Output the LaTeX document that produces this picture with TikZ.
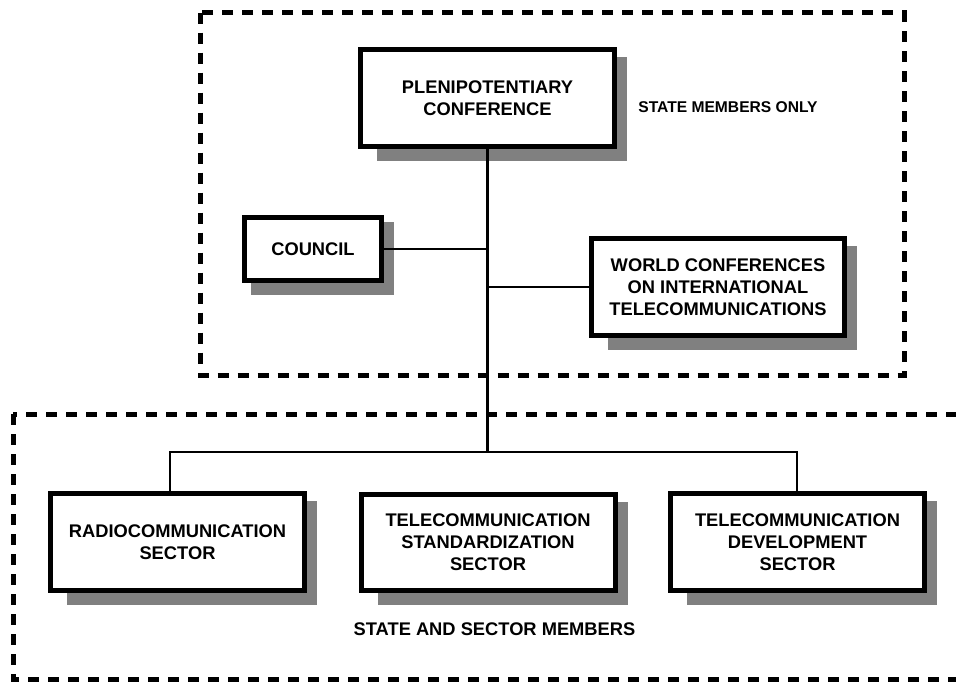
\documentclass[tikz,border=0pt]{standalone}
\usepackage{fontspec}
\setmainfont{Liberation Sans}
\usetikzlibrary{calc,backgrounds}
\definecolor{shadowgray}{HTML}{808080}
\tikzset{
  orgbox/.style={draw=black, line width=5pt, fill=white, rectangle, align=center,
    font=\bfseries\fontsize{18.3}{22}\selectfont, minimum width=254pt, minimum height=97pt, inner sep=2pt},
  frame/.style={draw=black, line width=5pt, dash pattern=on 11pt off 9pt},
  link/.style={draw=black, line width=2.5pt},
  buslink/.style={draw=black, line width=2pt},
  trunk/.style={draw=black, line width=3pt},
  lbl/.style={font=\bfseries\fontsize{18.3}{22}\selectfont, inner sep=0pt}
}
\newcommand{\boxshadow}[3]{%
  \fill[shadowgray] ($(#1.north west)+(#2,#3)$) rectangle ($(#1.south east)+(10,12)$);}
\begin{document}
\begin{tikzpicture}[x=1pt,y=-1pt]
\useasboundingbox (0,0) rectangle (956,683);
\clip (0,0) rectangle (956,683);

% dashed frames
\draw[frame] (200,12.5) rectangle (904,375);
\draw[frame] (13,414) rectangle (990,679);

% boxes
\node[orgbox] (plen) at (487.5,98) {PLENIPOTENTIARY\\CONFERENCE};
\node[orgbox, minimum width=137pt, minimum height=63pt] (council) at (313,249) {COUNCIL};
\node[orgbox, minimum width=253pt] (world) at (718,287) {WORLD CONFERENCES\\ON INTERNATIONAL\\TELECOMMUNICATIONS};
\node[orgbox] (radio) at (177.5,542) {RADIOCOMMUNICATION\\SECTOR};
\node[orgbox, minimum height=96pt] (std) at (488,542.5) {TELECOMMUNICATION\\STANDARDIZATION\\SECTOR};
\node[orgbox] (dev) at (797.5,542) {TELECOMMUNICATION\\DEVELOPMENT\\SECTOR};

% background and shadows
\begin{scope}[on background layer]
  \fill[white] (0,0) rectangle (956,683);
  \boxshadow{plen}{19}{10}
  \boxshadow{council}{9}{7}
  \boxshadow{world}{19}{10}
  \boxshadow{radio}{19}{10}
  \boxshadow{std}{19}{10}
  \boxshadow{dev}{19}{10}
\end{scope}

% labels
\node[lbl, font=\bfseries\fontsize{15.6}{19}\selectfont] (smo) at (728,107) {STATE MEMBERS ONLY};
\node[lbl] (ssm) at (494.5,629) {STATE AND SECTOR MEMBERS};

% connectors
\coordinate (bus) at (487,452);
\coordinate (busl) at (170,452);
\coordinate (busr) at (797,452);
\draw[trunk] (plen.south -| bus) -- (bus);
\draw[link] (council.east) -- (council.east -| bus);
\draw[link] (world.west) -- (world.west -| bus);
\draw[buslink] (radio.north -| busl) -- (busl) -- (busr) -- (busr |- dev.north);
\end{tikzpicture}
\end{document}
